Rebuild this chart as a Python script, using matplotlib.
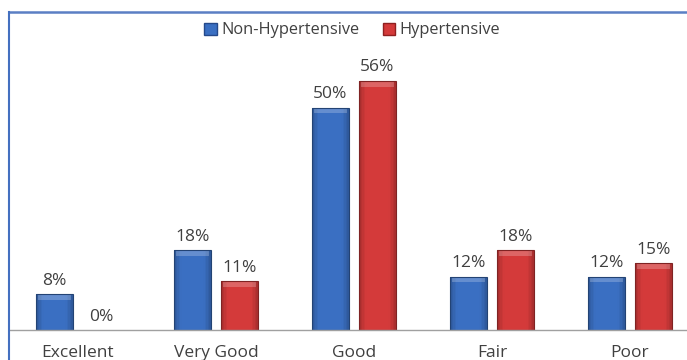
import numpy as np
import matplotlib
matplotlib.use("Agg")
import matplotlib.pyplot as plt
from matplotlib.lines import Line2D
from matplotlib.patches import Patch, Rectangle
from matplotlib.colors import to_rgb

categories = ["Excellent", "Very Good", "Good", "Fair", "Poor"]
non_hyper = [8, 18, 50, 12, 12]
hyper = [0, 11, 56, 18, 15]
series_names = ["Non-Hypertensive", "Hypertensive"]

plt.rcParams["font.family"] = ["Open Sans", "DejaVu Sans"]

W, H = 687, 360
fig = plt.figure(figsize=(W / 100, H / 100), dpi=100)

# plot area: baseline at y=330 px; each category slot is 138 px wide and
# the last slot runs slightly past the right edge of the figure
left_px, right_px, top_px, base_px = 9, W, 12, 330
slot_px = 138.0
ax = fig.add_axes([left_px / W, (H - base_px) / H,
                   (right_px - left_px) / W, (base_px - top_px) / H])
XLIM = (-0.5, -0.5 + (right_px - left_px) / slot_px)
YLIM = (0, (base_px - top_px) / 4.45)

x = np.arange(len(categories))
bw = 0.265
off = 0.17
blue = "#3a6fc2"
red = "#d43a3a"
text_col = "#404040"

# shading profile across a bar: flat middle, darker sides
N_STRIPS = 24
t = (np.arange(N_STRIPS) + 0.5) / N_STRIPS
shade = 1.0 - 0.22 * np.clip((np.abs(t - 0.5) - 0.3) / 0.2, 0, 1) ** 1.2


def shaded_bar(xc, h, color):
    if h <= 0:
        return
    base = np.array(to_rgb(color))
    sw = bw / N_STRIPS
    xs = xc - bw / 2 + sw * (np.arange(N_STRIPS) + 0.5)
    cols = [tuple(np.clip(base * s, 0, 1)) for s in shade]
    ax.bar(xs, [h] * N_STRIPS, sw * 1.02, color=cols, linewidth=0, zorder=2)
    # outline
    ax.bar(xc, h, bw, facecolor="none", edgecolor=base * 0.6, linewidth=0.8, zorder=2.3)
    # light bevel along the top
    ax.fill_between([xc - bw / 2 + 0.012, xc + bw / 2 - 0.012], h - 1.3, h - 0.15,
                    color="white", alpha=0.22, lw=0, zorder=2.2)


for xi, v in zip(x, non_hyper):
    shaded_bar(xi - off, v, blue)
for xi, v in zip(x, hyper):
    shaded_bar(xi + off, v, red)

for xi, v in zip(x, non_hyper):
    ax.text(xi - off, v + 1.2, f"{v}%", ha="center", va="bottom",
            fontsize=12.5, color=text_col)
for xi, v in zip(x, hyper):
    ax.text(xi + off, v + 1.2, f"{v}%", ha="center", va="bottom",
            fontsize=12.5, color=text_col)

ax.set_xticks(x)
ax.set_xticklabels(categories, fontsize=12.5, color=text_col)
ax.tick_params(axis="x", length=0, pad=11)
ax.tick_params(axis="y", left=False, right=False, labelleft=False)
for s in ["top", "right", "left"]:
    ax.spines[s].set_visible(False)
ax.spines["bottom"].set_color("#a0a0a0")
ax.spines["bottom"].set_linewidth(1.0)
ax.set_xlim(*XLIM)
ax.set_ylim(*YLIM)

# outer frame lines (top and left)
fig.add_artist(Line2D([8.5 / W, 1.0], [1 - 11.5 / H, 1 - 11.5 / H],
                      color="#5b7fc4", lw=1.8, transform=fig.transFigure))
fig.add_artist(Line2D([8.5 / W, 8.5 / W], [0, 1 - 11.5 / H],
                      color="#4470c0", lw=1.5, transform=fig.transFigure))
# keep the open right-hand side of the frame clean
fig.add_artist(Rectangle((683.5 / W, (H - base_px + 1.5) / H), 4 / W,
                         (base_px - top_px - 3.5) / H, transform=fig.transFigure,
                         facecolor="white", edgecolor="none", zorder=10))

handles = [Patch(facecolor=blue, edgecolor="#25498a"),
           Patch(facecolor=red, edgecolor="#8f2020")]
fig.legend(handles, series_names, loc="center", bbox_to_anchor=(0.513, 1 - 30.5 / H),
           ncol=2, frameon=False, fontsize=11.8, handlelength=0.75, handleheight=0.75,
           handletextpad=0.3, columnspacing=1.4, labelcolor=text_col)

fig.savefig("out.png", dpi=100)
